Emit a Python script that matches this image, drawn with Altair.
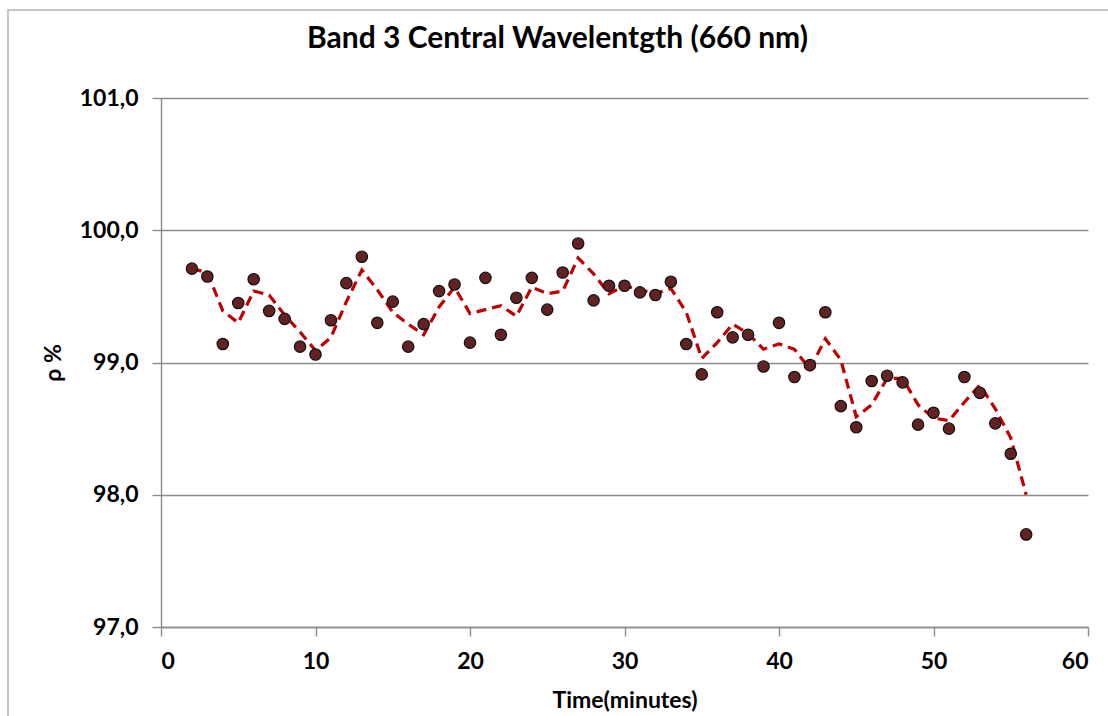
import altair as alt
import pandas as pd

minutes = list(range(2, 57))
rho_points = [99.71, 99.65, 99.14, 99.45, 99.63, 99.39, 99.33, 99.12, 99.06, 99.32,
              99.60, 99.80, 99.30, 99.46, 99.12, 99.29, 99.54, 99.59, 99.15, 99.64,
              99.21, 99.49, 99.64, 99.40, 99.68, 99.90, 99.47, 99.58, 99.58, 99.53,
              99.51, 99.61, 99.14, 98.91, 99.38, 99.19, 99.21, 98.97, 99.30, 98.89,
              98.98, 99.38, 98.67, 98.51, 98.86, 98.90, 98.85, 98.53, 98.62, 98.50,
              98.89, 98.77, 98.54, 98.31, 97.70]
rho_trend = [99.71, 99.68, 99.39, 99.30, 99.54, 99.51, 99.36, 99.23, 99.09, 99.19,
             99.46, 99.70, 99.55, 99.38, 99.29, 99.21, 99.42, 99.57, 99.37, 99.40,
             99.43, 99.35, 99.57, 99.52, 99.54, 99.79, 99.67, 99.52, 99.58, 99.55,
             99.52, 99.56, 99.38, 99.03, 99.15, 99.29, 99.22, 99.10, 99.14, 99.10,
             98.95, 99.18, 99.02, 98.59, 98.68, 98.88, 98.88, 98.68, 98.58, 98.56,
             98.70, 98.83, 98.65, 98.43, 98.00]
x_ticks = [0, 10, 20, 30, 40, 50, 60]
y_ticks = [97, 98, 99, 100, 101]

df = pd.DataFrame({"t": minutes, "p": rho_points, "trend": rho_trend})

FONT = "Lato"
GRAY = "#8c8c8c"

x_enc = alt.X("t:Q", scale=alt.Scale(domain=[0, 60], nice=False),
              axis=alt.Axis(values=x_ticks, grid=False, title="Time(minutes)",
                            format="d", labelPadding=14, titlePadding=16))
y_scale = alt.Scale(domain=[97, 101], nice=False, zero=False)

border = alt.Chart(pd.DataFrame({"a": [0]})).mark_rect(
    fill=None, stroke="#b4b4b4", strokeWidth=1.5
).encode(x=alt.value(-153), x2=alt.value(1200), y=alt.value(-88), y2=alt.value(900))

line = alt.Chart(df).mark_line(
    color="#C00000", strokeWidth=3.2, strokeDash=[10, 6]
).encode(
    x=x_enc,
    y=alt.Y("trend:Q", scale=y_scale,
            axis=alt.Axis(values=y_ticks, grid=True, title="ρ %",
                          labelExpr="replace(format(datum.value, '.1f'), '.', ',')",
                          labelPadding=14, titlePadding=14)),
)

points = alt.Chart(df).mark_point(
    filled=True, fill="#622222", stroke="#111111", strokeWidth=1.2, size=130, opacity=1
).encode(x="t:Q", y=alt.Y("p:Q", scale=y_scale))

chart = alt.layer(border, line, points).properties(
    width=927, height=529,
    background="white",
    title=alt.TitleParams("Band 3 Central Wavelentgth (660 nm)", fontSize=30,
                          font=FONT, fontWeight="bold", color="#000000",
                          anchor="middle", dx=-67, offset=-69, baseline="alphabetic"),
    autosize=alt.AutoSizeParams(type="none"),
    padding={"left": 161, "top": 98, "right": 20, "bottom": 89},
).configure_view(stroke=None).configure_axis(
    labelFont=FONT, labelFontSize=23, labelFontWeight="bold", labelColor="#000000",
    titleFont=FONT, titleFontSize=23, titleFontWeight="bold", titleColor="#000000",
    gridColor=GRAY, gridWidth=1.4, domainColor=GRAY, domainWidth=1.4,
    tickColor=GRAY, tickSize=9, tickWidth=1.4,
)

chart.save("out.html", embed_options={"renderer": "svg", "actions": False})
